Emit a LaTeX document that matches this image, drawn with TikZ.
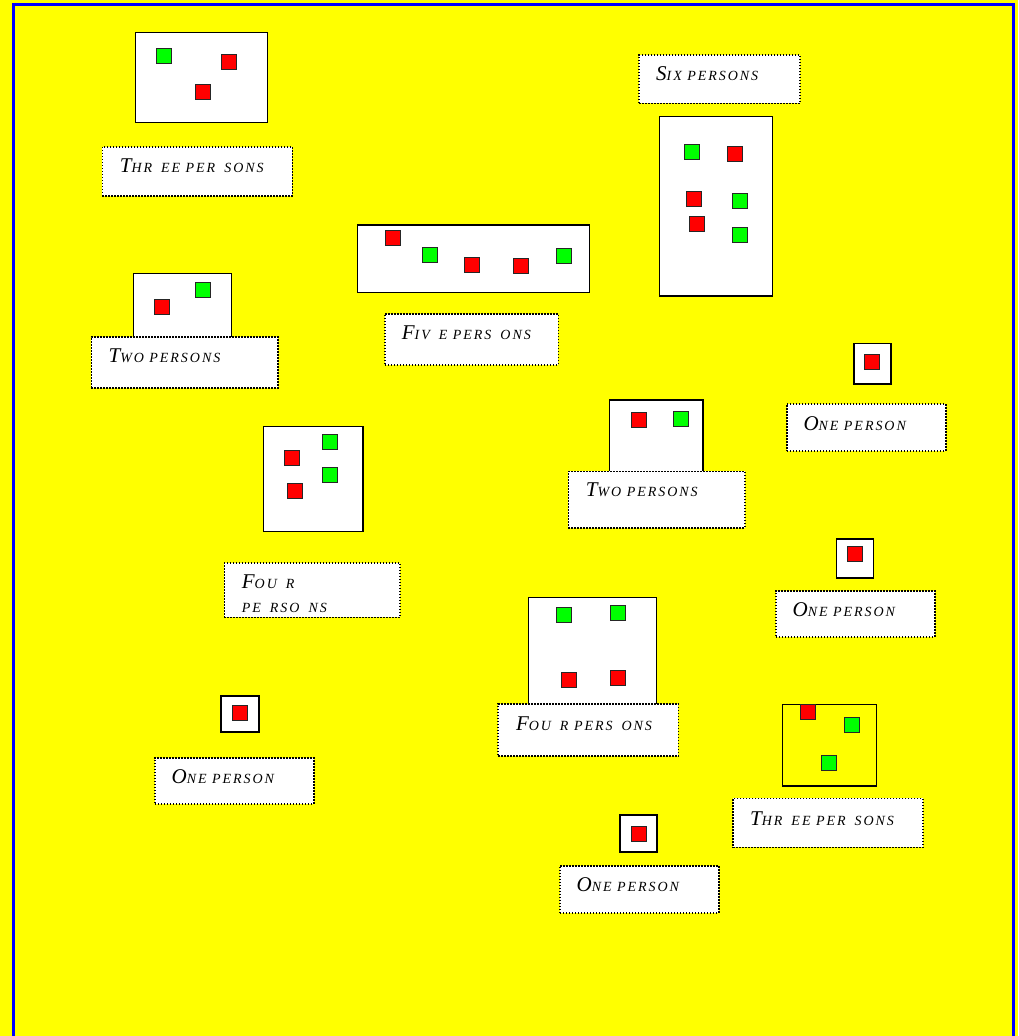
\documentclass[tikz,border=0pt]{standalone}
\usepackage{fontspec}
\setmainfont{Liberation Serif}
\usepackage{xcolor}
\usepackage{tikz}
\usetikzlibrary{positioning,calc}
\definecolor{floorbg}{RGB}{255,255,0}
\definecolor{frameblue}{RGB}{0,0,255}
\definecolor{mangreen}{RGB}{0,255,0}
\definecolor{manred}{RGB}{255,0,0}
\newcommand{\smcap}[2]{{\fontsize{21}{24}\selectfont #1}{\addfontfeatures{LetterSpace=14}\MakeUppercase{#2}}}
\newcommand{\gp}{\kern9pt}

\begin{document}
\begin{tikzpicture}[x=1pt, y=-1pt,
    room/.style={draw=black, line width=1.5pt, fill=white, inner sep=0pt},
    opened/.style={draw=black, line width=1.5pt, inner sep=0pt},
    man/.style={draw=black!85, line width=1pt, minimum size=15pt, inner sep=0pt},
    tag/.style={draw=black, line width=1.5pt, dash pattern=on 1.5pt off 1.5pt, fill=white, inner sep=0pt, anchor=north west},
    tagtext/.style={font=\fontsize{14}{24.4}\selectfont\itshape, inner sep=0pt, align=left, anchor=base west},
]
\useasboundingbox (0,0) rectangle (1018,1036);
\clip (0,0) rectangle (1018,1036);
\fill[floorbg] (0,0) rectangle (1018,1036);
\draw[frameblue, line width=3pt] (13.5,1050) -- (13.5,4.5) -- (1013.3,4.5) -- (1013.3,1050);

\node[room, minimum width=132, minimum height=89.6] (b3a) at (201.7,77.5) {};
\node[man, fill=mangreen] (p3a1) at (163.7,56.3) {};
\node[man, fill=manred] (p3a2) at (228.5,62) {};
\node[man, fill=manred] (p3a3) at (203,92.3) {};

\node[room, minimum width=112.6, minimum height=179.3] (b6) at (716,206.3) {};
\node[man, fill=mangreen] (p61) at (691.7,152) {};
\node[man, fill=manred] (p62) at (735,154) {};
\node[man, fill=manred] (p63) at (693.5,198.5) {};
\node[man, fill=mangreen] (p64) at (740.3,200.5) {};
\node[man, fill=manred] (p65) at (697,224) {};
\node[man, fill=mangreen] (p66) at (740.3,234.7) {};

\node[room, minimum width=232.4, minimum height=67.3] (b5) at (473.5,258.7) {};
\node[man, fill=manred] (p51) at (392.5,238.2) {};
\node[man, fill=mangreen] (p52) at (430.3,254.8) {};
\node[man, fill=manred] (p53) at (471.8,265.2) {};
\node[man, fill=manred] (p54) at (520.5,265.8) {};
\node[man, fill=mangreen] (p55) at (563.8,255.8) {};

\node[room, minimum width=98, minimum height=64.7] (b2a) at (182.7,305.7) {};
\node[man, fill=manred] (p2a1) at (162,306.8) {};
\node[man, fill=mangreen] (p2a2) at (203.3,290.2) {};

\node[room, minimum width=99.3, minimum height=105] (b4a) at (313.3,479.2) {};
\node[man, fill=mangreen] (p4a1) at (329.7,441.7) {};
\node[man, fill=manred] (p4a2) at (291.7,458.2) {};
\node[man, fill=mangreen] (p4a3) at (329.7,475.2) {};
\node[man, fill=manred] (p4a4) at (295,491.3) {};

\node[room, minimum width=93.7, minimum height=72] (b2b) at (656.2,436) {};
\node[man, fill=manred] (p2b1) at (639.2,419.8) {};
\node[man, fill=mangreen] (p2b2) at (680.8,418.5) {};

\node[room, minimum width=37, minimum height=40.7] (b1a) at (872.5,363.7) {};
\node[man, fill=manred] (p1a) at (871.7,362.2) {};

\node[room, minimum width=37, minimum height=39] (b1b) at (855,558.5) {};
\node[man, fill=manred] (p1b) at (855,554) {};

\node[room, minimum width=127.6, minimum height=107.3] (b4b) at (592.5,651.3) {};
\node[man, fill=mangreen] (p4b1) at (563.7,614.5) {};
\node[man, fill=mangreen] (p4b2) at (617.7,613.2) {};
\node[man, fill=manred] (p4b3) at (569,679.5) {};
\node[man, fill=manred] (p4b4) at (617.7,678.3) {};

\node[opened, minimum width=94, minimum height=81.7] (b3b) at (829.3,745.2) {};
\node[man, fill=manred] (p3b1) at (808.3,712.2) {};
\node[man, fill=mangreen] (p3b2) at (851.8,724.8) {};
\node[man, fill=mangreen] (p3b3) at (828.5,762.5) {};

\node[room, minimum width=38, minimum height=36] (b1c) at (240,714) {};
\node[man, fill=manred] (p1c) at (239.5,712.5) {};

\node[room, minimum width=37, minimum height=37] (b1d) at (638.5,833.5) {};
\node[man, fill=manred] (p1d) at (639,834) {};

\node[tag, minimum width=190, minimum height=49] (l3a) at (101.7,146) {};
\node[tagtext] (t3a) at ([shift={(18,26.5)}]l3a.north west) {\smcap{T}{hr\gp ee per\gp sons}};
\node[tag, minimum width=161, minimum height=48.4] (l6) at (638.3,54.3) {};
\node[tagtext] (t6) at ([shift={(17.7,26.5)}]l6.north west) {\smcap{S}{ix persons}};
\node[tag, minimum width=173.7, minimum height=50.7] (l5) at (384,313.3) {};
\node[tagtext] (t5) at ([shift={(17.7,26)}]l5.north west) {\smcap{F}{iv\gp e pers\gp ons}};
\node[tag, minimum width=186.6, minimum height=51.3] (l2a) at (90.7,336) {};
\node[tagtext] (t2a) at ([shift={(17.7,26)}]l2a.north west) {\smcap{T}{wo persons}};
\node[tag, minimum width=175.6, minimum height=54.4] (l4a) at (223.7,562.3) {};
\node[tagtext] (t4a) at ([shift={(18,50.4)}]l4a.north west) {\smcap{F}{ou\gp r}\\\smcap{}{pe\gp rso\gp ns}};
\node[tag, minimum width=176.3, minimum height=56.6] (l2b) at (567.7,470.7) {};
\node[tagtext] (t2b) at ([shift={(18,26)}]l2b.north west) {\smcap{T}{wo persons}};
\node[tag, minimum width=159, minimum height=46.7] (l1a) at (786,403.3) {};
\node[tagtext] (t1a) at ([shift={(17.3,26.7)}]l1a.north west) {\smcap{O}{ne person}};
\node[tag, minimum width=159, minimum height=46] (l1b) at (775,590) {};
\node[tagtext] (t1b) at ([shift={(17.5,26)}]l1b.north west) {\smcap{O}{ne person}};
\node[tag, minimum width=180.4, minimum height=51.7] (l4b) at (497.3,703.3) {};
\node[tagtext] (t4b) at ([shift={(18.5,26.7)}]l4b.north west) {\smcap{F}{ou\gp r pers\gp ons}};
\node[tag, minimum width=189.7, minimum height=49] (l3b) at (732.3,797.7) {};
\node[tagtext] (t3b) at ([shift={(17.7,27.3)}]l3b.north west) {\smcap{T}{hr\gp ee per\gp sons}};
\node[tag, minimum width=159, minimum height=46] (l1c) at (154,757) {};
\node[tagtext] (t1c) at ([shift={(17.5,26.5)}]l1c.north west) {\smcap{O}{ne person}};
\node[tag, minimum width=159, minimum height=47] (l1d) at (559,865) {};
\node[tagtext] (t1d) at ([shift={(17.5,26.5)}]l1d.north west) {\smcap{O}{ne person}};
\end{tikzpicture}
\end{document}
